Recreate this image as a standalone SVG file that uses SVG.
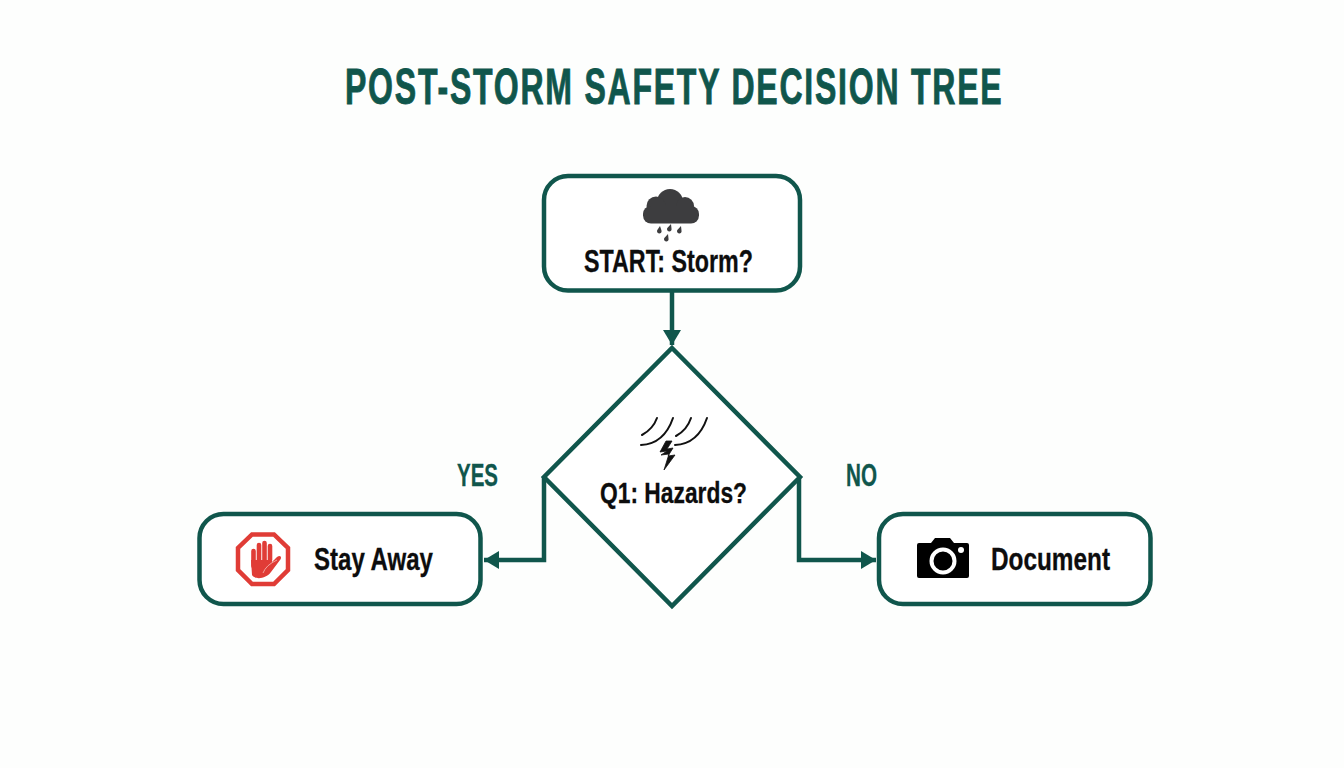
<svg xmlns="http://www.w3.org/2000/svg" width="1344" height="768" viewBox="0 0 1344 768">
<style>
.box{fill:#fff;stroke:#10564c;stroke-width:4.5}
.conn{fill:none;stroke:#10564c;stroke-width:4.5}
.t{font-family:"Liberation Sans",Arial,sans-serif;font-weight:700;fill:#0d0d0d;stroke:#0d0d0d;stroke-width:.3}
.g{fill:#10564c;stroke:#10564c}
.w{fill:none;stroke:#111;stroke-width:2;stroke-linecap:round}
.f{fill:none;stroke:#e03c36;stroke-width:4.6;stroke-linecap:round}
</style>
<defs>
<marker id="a" markerUnits="userSpaceOnUse" markerWidth="16" markerHeight="18" refX="15" refY="9" orient="auto"><path d="M0 0L15 9L0 18Z" fill="#10564c"/></marker>
</defs>
<rect width="1344" height="768" fill="#fdfefd"/>
<text id="title" class="t g" transform="translate(345 104) scale(.64 1)" font-size="50" textLength="1026" lengthAdjust="spacing" style="stroke-width:.9">POST-STORM SAFETY DECISION TREE</text>
<g id="connectors">
<path class="conn" d="M672 291V345" marker-end="url(#a)"/>
<path class="conn" d="M544 477V560H484" marker-end="url(#a)"/>
<path class="conn" d="M799 477V560H876" marker-end="url(#a)"/>
</g>
<g id="start">
<rect class="box" x="544" y="176" width="256" height="114.500" rx="24"/>
<g fill="#3d3d3f"><circle cx="670" cy="202" r="13"/><circle cx="656" cy="206" r="9.500"/><circle cx="685" cy="206" r="9"/><rect x="643" y="206" width="56" height="17.500" rx="8"/></g>
<g fill="#3d3d3f"><path d="M660 226l1.500 4.500a2.300 2.300 0 1 1-4.200-.5Z"/><path d="M671 224l.5 4.500a2.300 2.300 0 1 1-4.200-.5Z"/><path d="M681 226l.5 4.500a2.300 2.300 0 1 1-4.200-.5Z"/><path d="M668 234l.5 4.500a2.300 2.300 0 1 1-4.200-.5Z"/></g>
<text class="t" x="584" y="272" font-size="31" textLength="169" lengthAdjust="spacingAndGlyphs">START: Storm?</text>
</g>
<g id="q1">
<path class="box" d="M672 348L800 477L672 606L544 477Z" stroke-linejoin="miter"/>
<path class="w" d="M657 418Q653 429 642 435"/>
<path class="w" d="M673 418Q664 444 641 445"/>
<path class="w" d="M691 418Q687 430 676 436"/>
<path class="w" d="M707 418Q698 444 675 445"/>
<path d="M666 441L660 452L667 451L661 455L669 454L664 470L675 455L668 456L673 448L667 449L672 441Z" fill="#111" stroke="#111" stroke-width=".8"/>
<text class="t" x="600" y="503" font-size="30" textLength="147" lengthAdjust="spacingAndGlyphs">Q1: Hazards?</text>
</g>
<g id="stay">
<rect class="box" x="199.500" y="514" width="281" height="90" rx="24"/>
<path d="M252 534.500H274L288 548V570L274 584H252L238 570V548Z" fill="#fff" stroke="#e03c36" stroke-width="4.500"/>
<path class="f" d="M253.500 566V551M259 560V545M264.500 560V543M270 560V546"/>
<path d="M251 560H272V562L277 557C281 554 282 558 280 560L271 572C266 579 255 580 252 575Z" fill="#e03c36"/>
<path d="M263 573Q266 565 277 560" fill="none" stroke="#f3a29d" stroke-width="1"/>
<text class="t" x="314" y="570" font-size="31" textLength="119" lengthAdjust="spacingAndGlyphs">Stay Away</text>
</g>
<g id="document">
<rect class="box" x="879" y="514" width="271.500" height="90" rx="24"/>
<path d="M919 543H931L935 538H950L954 543H967Q969 543 969 545V576Q969 578 967 578H919Q917 578 917 576V545Q917 543 919 543Z" fill="#000"/>
<circle cx="943" cy="561" r="11.500" fill="none" stroke="#fff" stroke-width="4"/>
<circle cx="961" cy="550" r="3" fill="#fff"/>
<text class="t" x="991" y="570" font-size="31" textLength="119" lengthAdjust="spacingAndGlyphs">Document</text>
</g>
<g id="labels">
<text class="t g" x="457" y="486" font-size="31" textLength="41" lengthAdjust="spacingAndGlyphs">YES</text>
<text class="t g" x="846" y="486" font-size="31" textLength="31" lengthAdjust="spacingAndGlyphs">NO</text>
</g>
</svg>
